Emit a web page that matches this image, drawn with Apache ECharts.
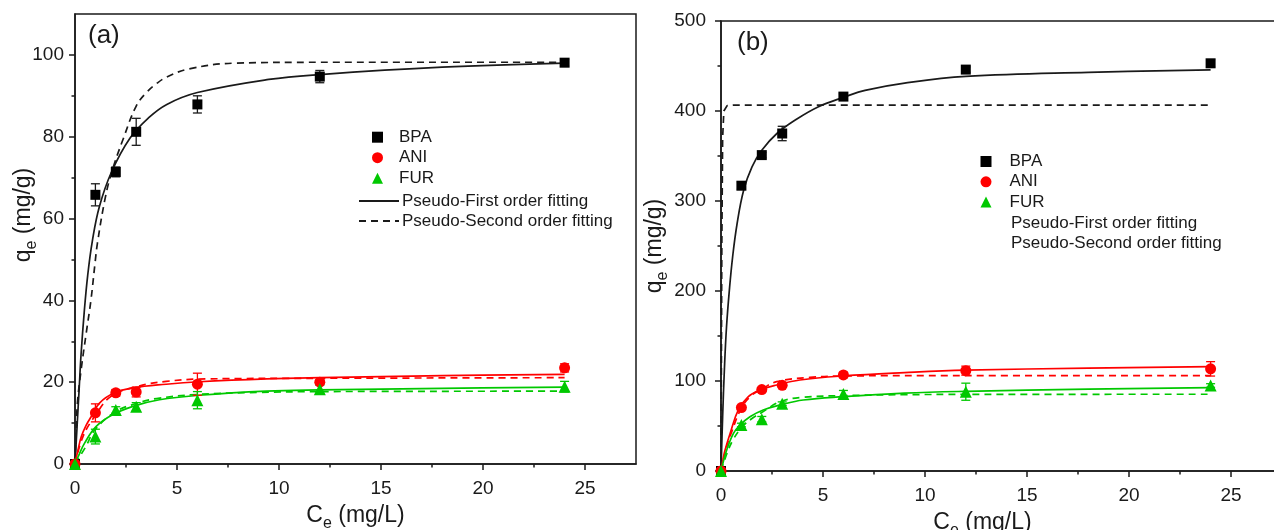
<!DOCTYPE html>
<html>
<head>
<meta charset="utf-8">
<script src="https://cdn.jsdelivr.net/npm/echarts@6/dist/echarts.min.js"></script>
<style>
  html, body { margin: 0; padding: 0; background: #fff; }
  #chart { width: 1274px; height: 530px; }
</style>
</head>
<body>
<div id="chart"></div>
<script>
// Equilibrium concentrations C_e (mg/L)
const conc = [0, 1, 2, 3, 6, 12, 24];

// Panel (a): measured uptake q_e (mg/g) and error bars
const bpaA = [0, 65.8, 71.4, 81.2, 87.9, 94.7, 98.1];
const bpaAErr = [0, 2.7, 1.2, 3.3, 2.1, 1.5, 0.8];
const aniA = [0, 12.5, 17.4, 17.6, 19.5, 20.0, 23.5];
const aniAErr = [0, 2.2, 0.8, 1.2, 2.7, 0.6, 1.0];
const furA = [0, 6.7, 13.2, 14.0, 15.6, 18.3, 18.9];
const furAErr = [0, 1.8, 0.8, 1.0, 2.1, 1.0, 1.3];

// Panel (b): measured uptake q_e (mg/g) and error bars
const bpaB = [0, 317, 351, 375, 416, 446, 453];
const bpaBErr = [0, 4, 3, 8, 3, 3, 4];
const aniB = [0, 70.5, 90.5, 95.2, 106.7, 111.5, 113.5];
const aniBErr = [0, 2, 2, 2, 3, 5, 8];
const furB = [0, 51.1, 57.6, 74.8, 85.5, 88.1, 95.0];
const furBErr = [0, 2, 3, 2, 4, 9.5, 2];

// Fitted curves, panel (a): [C_e, q_e]
const pfBpaA = [[0,0],[0.1,9],[0.2,18],[0.3,27],[0.45,37],[0.62,46],[0.85,54.5],[1.2,63],[1.8,71.5],[2.7,79.7],[3.6,84.6],[4.5,87.9],[6,90.8],[9.5,94],[12,95.2],[18,97],[24,98]];
const psBpaA = [[0,0],[0.05,7],[0.12,15],[0.3,23],[0.55,32],[0.78,40],[0.98,49],[1.1,54],[1.48,65],[1.81,71.5],[2.38,79.7],[3.0,87.5],[3.5,90.8],[4.0,93.0],[4.5,94.6],[5.6,96.6],[7.9,98.0],[12,98.2],[24,98.2]];
const pfAniA = [[0,0],[0.15,3.5],[0.31,6.7],[0.55,9.5],[0.8,11.6],[1.2,14.9],[1.94,17.4],[2.84,18.6],[4.47,19.5],[6.1,20.1],[9.4,20.8],[12,21.1],[18,21.6],[24,21.9]];
const psAniA = [[0,0],[0.39,6.7],[0.96,11.6],[1.78,16.6],[3.08,19],[4.47,20.2],[6.4,20.8],[12,20.95],[24,21.1]];
const pfFurA = [[0,0],[0.2,2.3],[0.47,5.1],[1.04,9.2],[1.86,12.1],[2.84,14.1],[4.14,15.7],[6.1,16.8],[9.36,17.8],[12,18.1],[18,18.5],[24,18.8]];
const psFurA = [[0,0],[0.5,4],[1,8.5],[2,12.8],[3,14.8],[4,16],[6,17],[9,17.5],[12,17.7],[24,17.8]];

// Fitted curves, panel (b): [C_e, q_e]
const pfBpaB = [[0,0],[0.08,60],[0.17,115],[0.27,160],[0.41,201],[0.57,238],[0.79,275],[1.11,312],[1.52,338],[2.01,356.7],[2.74,375],[3.64,390],[4.78,404.8],[6.09,415.9],[7.06,423],[9,431],[12,438.5],[18,443],[24,445.6]];
const psBpaB = [[0,0],[0.04,250],[0.08,370],[0.14,400],[0.3,406],[0.6,406.5],[24,406.5]];
const pfAniB = [[0,0],[0.1,13],[0.2,23.3],[0.45,41.9],[0.85,67.8],[1.34,82.6],[1.91,90],[2.73,95.6],[3.87,101.1],[5.99,105.6],[9,109.3],[12,112],[18,114.3],[24,115.9]];
const psAniB = [[0,0],[0.25,25],[0.5,42],[1,70],[1.5,84],[2,91],[2.73,99.3],[4.36,104],[6,105.6],[9,105.9],[24,106]];
const pfFurB = [[0,0],[0.28,23.3],[0.61,41.9],[0.93,51.1],[1.42,60.3],[2.07,67.8],[2.89,73.3],[4.03,78.9],[5.99,82.6],[9,86.5],[12,88.5],[18,91],[24,92.6]];
const psFurB = [[0,0],[0.3,20],[0.6,35],[1,48],[1.5,58],[2,65],[2.9,77],[4,81.9],[6,83.7],[9,84.8],[12,85.1],[24,85.3]];

// Tick values
const xMajor = [0, 5, 10, 15, 20, 25];
const xMinor = [2.5, 7.5, 12.5, 17.5, 22.5];
const yMajorA = [0, 20, 40, 60, 80, 100];
const yMinorA = [10, 30, 50, 70, 90];
const yMajorB = [0, 100, 200, 300, 400, 500];
const yMinorB = [50, 150, 250, 350, 450];

const FONT = "'Liberation Sans', Arial, sans-serif";
const INK = '#1a1a1a';
const RED = '#ff0000';
const GREEN = '#00c800';
const PF_NAME = 'Pseudo-First order fitting';
const PS_NAME = 'Pseudo-Second order fitting';
const DASH = [7, 5];
const CLEAR = 'rgba(0,0,0,0)';

const subRich = {
  m: { fontSize: 23, fontFamily: FONT, color: INK, lineHeight: 28, verticalAlign: 'top' },
  s: { fontSize: 16, fontFamily: FONT, color: INK, lineHeight: 12, verticalAlign: 'bottom' }
};

function mainXAxis(grid, namePad) {
  return {
    type: 'value', gridIndex: grid, min: 0, max: 27.5, interval: 5,
    axisLine: { lineStyle: { color: INK, width: 1.5 } },
    axisTick: { customValues: xMajor, length: 6, lineStyle: { color: INK, width: 1.5 } },
    axisLabel: { customValues: xMajor, fontSize: 19, fontFamily: FONT, color: INK, margin: 15 },
    splitLine: { show: false },
    name: '{m|C}{s|e}{m| (mg/L)}',
    nameLocation: 'middle', nameGap: 40, nameMoveOverlap: false,
    nameTextStyle: { rich: subRich, padding: namePad }
  };
}
function minorXAxis(grid) {
  return {
    type: 'value', gridIndex: grid, position: 'bottom', min: 0, max: 27.5, interval: 5,
    axisLine: { show: false },
    axisTick: { customValues: xMinor, length: 3.5, lineStyle: { color: INK, width: 1.5 } },
    axisLabel: { show: false }, splitLine: { show: false }
  };
}
function mainYAxis(grid, max, interval, major, labelMargin, nameGap, namePad) {
  return {
    type: 'value', gridIndex: grid, min: 0, max: max, interval: interval,
    axisLine: { lineStyle: { color: INK, width: 1.5 } },
    axisTick: { customValues: major, length: 6, lineStyle: { color: INK, width: 1.5 } },
    axisLabel: { customValues: major, fontSize: 19, fontFamily: FONT, color: INK, margin: labelMargin },
    splitLine: { show: false },
    name: '{m|q}{s|e}{m| (mg/g)}',
    nameLocation: 'middle', nameGap: nameGap, nameMoveOverlap: false,
    nameTextStyle: { rich: subRich, padding: namePad }
  };
}
function minorYAxis(grid, max, interval, minor) {
  return {
    type: 'value', gridIndex: grid, position: 'left', min: 0, max: max, interval: interval,
    axisLine: { show: false },
    axisTick: { customValues: minor, length: 3.5, lineStyle: { color: INK, width: 1.5 } },
    axisLabel: { show: false }, splitLine: { show: false }
  };
}

function points(ys) { return conc.map((x, i) => [x, ys[i]]); }

function scatter(name, ax, ys, symbol, size, color) {
  return {
    type: 'scatter', name: name, xAxisIndex: ax, yAxisIndex: ax,
    data: points(ys), symbol: symbol, symbolSize: size,
    itemStyle: { color: color, opacity: 1 }, z: 5, animation: false
  };
}
function errorBars(ax, ys, errs, color) {
  const data = conc.map((x, i) => [x, ys[i] - errs[i], ys[i] + errs[i]]).filter((d, i) => errs[i] > 0);
  return {
    type: 'custom', name: 'err', xAxisIndex: ax, yAxisIndex: ax, z: 4, silent: true,
    encode: { x: 0, y: [1, 2] }, data: data, animation: false,
    renderItem: function (params, api) {
      const x = api.value(0);
      const lo = api.coord([x, api.value(1)]);
      const hi = api.coord([x, api.value(2)]);
      const w = 4.5;
      const style = { stroke: color, lineWidth: 1.3, fill: null };
      return {
        type: 'group', children: [
          { type: 'line', shape: { x1: lo[0], y1: lo[1], x2: hi[0], y2: hi[1] }, style: style },
          { type: 'line', shape: { x1: lo[0] - w, y1: lo[1], x2: lo[0] + w, y2: lo[1] }, style: style },
          { type: 'line', shape: { x1: hi[0] - w, y1: hi[1], x2: hi[0] + w, y2: hi[1] }, style: style }
        ]
      };
    }
  };
}
function curve(name, ax, data, color, dashed, smooth) {
  return {
    type: 'line', name: name, xAxisIndex: ax, yAxisIndex: ax, data: data,
    symbol: 'none', smooth: smooth === false ? false : 0.4,
    lineStyle: { color: color, width: 1.7, type: dashed ? DASH : 'solid' },
    itemStyle: { color: color }, z: 3, animation: false
  };
}

// axis index 0/1 -> panel (a) main/minor, 2/3 -> panel (b) main/minor
const series = [
  curve(PF_NAME, 0, pfBpaA, INK, false),
  curve(PS_NAME, 0, psBpaA, INK, true),
  curve(PF_NAME, 0, pfAniA, RED, false),
  curve(PS_NAME, 0, psAniA, RED, true),
  curve(PF_NAME, 0, pfFurA, GREEN, false),
  curve(PS_NAME, 0, psFurA, GREEN, true),
  errorBars(0, bpaA, bpaAErr, INK),
  errorBars(0, aniA, aniAErr, RED),
  errorBars(0, furA, furAErr, GREEN),
  scatter('BPA', 0, bpaA, 'rect', 10, '#000'),
  scatter('ANI', 0, aniA, 'circle', 11, RED),
  scatter('FUR', 0, furA, 'triangle', 12, GREEN),

  curve(PF_NAME, 2, pfBpaB, INK, false),
  curve(PS_NAME, 2, psBpaB, INK, true, false),
  curve(PF_NAME, 2, pfAniB, RED, false),
  curve(PS_NAME, 2, psAniB, RED, true),
  curve(PF_NAME, 2, pfFurB, GREEN, false),
  curve(PS_NAME, 2, psFurB, GREEN, true),
  errorBars(2, bpaB, bpaBErr, INK),
  errorBars(2, aniB, aniBErr, RED),
  errorBars(2, furB, furBErr, GREEN),
  scatter('BPA', 2, bpaB, 'rect', 10, '#000'),
  scatter('ANI', 2, aniB, 'circle', 11, RED),
  scatter('FUR', 2, furB, 'triangle', 12, GREEN)
];

const legendText = { fontSize: 17, fontFamily: FONT, color: INK };

const option = {
  backgroundColor: '#fff',
  animation: false,
  title: [
    { text: '(a)', left: 88, top: 23, padding: 0, textStyle: { fontSize: 26, fontWeight: 'normal', fontFamily: FONT, color: INK } },
    { text: '(b)', left: 737, top: 30, padding: 0, textStyle: { fontSize: 26, fontWeight: 'normal', fontFamily: FONT, color: INK } }
  ],
  grid: [
    { left: 75, top: 14, width: 561, height: 450, show: true, borderColor: INK, borderWidth: 1.5,
      backgroundColor: 'transparent', outerBoundsMode: 'none', containLabel: false },
    { left: 721, top: 21, width: 561, height: 450, show: true, borderColor: INK, borderWidth: 1.5,
      backgroundColor: 'transparent', outerBoundsMode: 'none', containLabel: false }
  ],
  xAxis: [
    mainXAxis(0, [0, 0, 0, 0]),
    minorXAxis(0),
    mainXAxis(1, [0, 38, 0, 0]),
    minorXAxis(1)
  ],
  yAxis: [
    mainYAxis(0, 110, 20, yMajorA, 11, 35, [0, 0, 0, 48]),
    minorYAxis(0, 110, 20, yMinorA),
    mainYAxis(1, 500, 100, yMajorB, 15, 50, [0, 0, 0, 0]),
    minorYAxis(1, 500, 100, yMinorB)
  ],
  legend: [
    { data: ['BPA', 'ANI', 'FUR'], orient: 'vertical', left: 372, top: 128.7, padding: 0,
      itemWidth: 11, itemHeight: 11, itemGap: 3.5, selectedMode: false,
      textStyle: Object.assign({ padding: [0, 0, 0, 11] }, legendText) },
    { data: [{ name: PF_NAME, itemStyle: { color: CLEAR, borderColor: CLEAR } },
             { name: PS_NAME, itemStyle: { color: CLEAR, borderColor: CLEAR } }],
      orient: 'vertical', left: 358, top: 192.5, padding: 0,
      itemWidth: 40, itemHeight: 11, itemGap: 2.9, selectedMode: false,
      textStyle: Object.assign({ padding: [0, 0, 0, -2] }, legendText) },
    { data: ['BPA', 'ANI', 'FUR'], orient: 'vertical', left: 980.5, top: 153, padding: 0,
      itemWidth: 11, itemHeight: 11, itemGap: 3.3, selectedMode: false,
      textStyle: Object.assign({ padding: [0, 0, 0, 13] }, legendText) },
    { data: [{ name: PF_NAME, lineStyle: { color: CLEAR }, itemStyle: { color: CLEAR, borderColor: CLEAR } },
             { name: PS_NAME, lineStyle: { color: CLEAR }, itemStyle: { color: CLEAR, borderColor: CLEAR } }],
      orient: 'vertical', left: 965, top: 215, padding: 0,
      itemWidth: 40, itemHeight: 11, itemGap: 3.0, selectedMode: false, textStyle: legendText }
  ],
  series: series
};

const chart = echarts.init(document.getElementById('chart'), null, { renderer: 'canvas' });
chart.setOption(option);
</script>
</body>
</html>
